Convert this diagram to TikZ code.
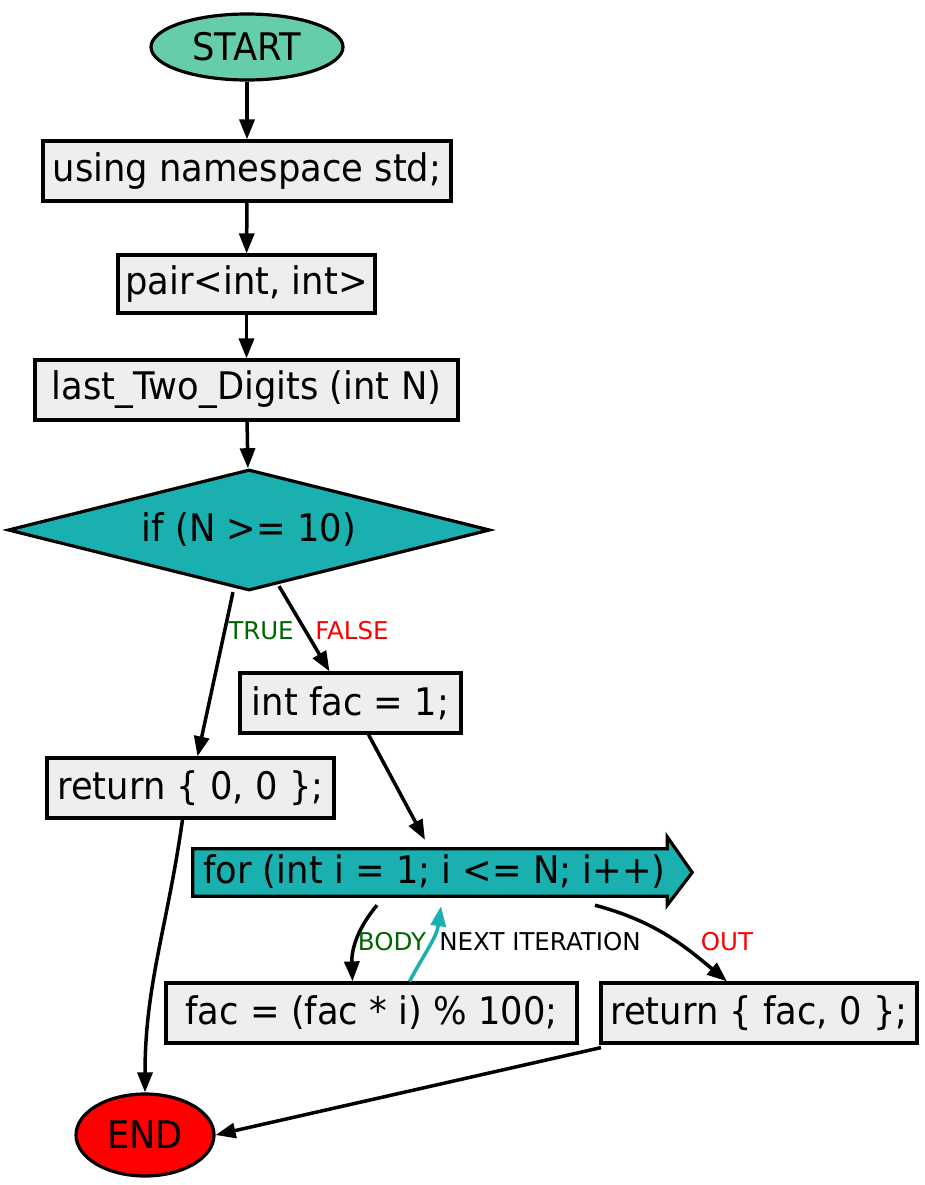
\documentclass[tikz,border=0pt]{standalone}
\usepackage{fontspec}
\setmainfont[FakeStretch=0.93]{DejaVu Sans}
\newfontfamily\lblfont{DejaVu Sans}
\usetikzlibrary{shapes.geometric,arrows.meta,calc}
\definecolor{startfill}{RGB}{102,205,170}
\definecolor{tealfill}{RGB}{26,176,176}
\definecolor{boxfill}{RGB}{238,238,238}
\definecolor{truegreen}{RGB}{0,100,0}
\begin{document}
\begin{tikzpicture}[x=1pt,y=-1pt,
  every node/.style={font=\fontsize{38}{44}\selectfont, inner sep=0pt},
  stmt/.style={draw, line width=3.2pt, fill=boxfill, rectangle, minimum height=60pt},
  terminal/.style={draw, line width=3.2pt, ellipse},
  decision/.style={draw, line width=3.2pt, fill=tealfill, diamond, aspect=3.98},
  flow/.style={line width=3.5pt, -{Triangle[length=20pt,width=15pt]}},
  lbl/.style={font=\lblfont\fontsize{24.5}{30}\selectfont}
]
\useasboundingbox (0,0) rectangle (924,1185);

% terminals and statements
\node[terminal, fill=startfill, minimum width=192pt, minimum height=66pt] (start) at (247,47) {START};
\node[stmt, minimum width=408pt] (ns) at (247,171) {using namespace std;};
\node[stmt, minimum width=257pt, minimum height=58pt] (pair) at (246.5,284) {pair<int, int>};
\node[stmt, minimum width=423pt] (fn) at (246.5,390) {last\_Two\_Digits (int N)};
\node[decision, minimum width=482pt, minimum height=121pt] (cond) at (249,530) {if (N >= 10)};
\node[stmt, minimum width=221pt] (fac) at (350.5,703) {int fac = 1;};
\node[stmt, minimum width=287pt] (ret0) at (190.5,788) {return \{ 0, 0 \};};

% loop header drawn as a block arrow
\node[minimum width=474pt, minimum height=47pt] (for) at (430,872.5) {};
\draw[line width=3.2pt, fill=tealfill] (for.north west) -- (for.north east) -- ++(0,-12)
  -- ($(for.east)+(25,0)$) -- ($(for.south east)+(0,9)$) -- (for.south east)
  -- (for.south west) -- cycle;
\node[anchor=west] (fortext) at (203,872) {for (int i = 1; i <= N; i++)};

\node[stmt, minimum width=411pt] (body) at (371.5,1013) {fac = (fac * i) \% 100;};
\node[stmt, minimum width=316pt] (retf) at (759,1013) {return \{ fac, 0 \};};
\node[terminal, fill=red, minimum width=138pt, minimum height=82pt] (end) at (145,1135) {END};

% connectors
\draw[flow] (start) -- (ns);
\draw[flow] (ns) -- (pair);
\draw[flow] (pair) -- (fn);
\draw[flow] (fn) -- (cond);
\draw[flow] ([xshift=-16pt]cond.south) -- ([xshift=7pt]ret0.north);
\draw[flow] ([xshift=30pt,yshift=6pt]cond.south) -- ([xshift=-21pt]fac.north);
\node[lbl, text=truegreen] (ltrue) at (261,631) {TRUE};
\node[lbl, text=red] (lfalse) at (352,631) {FALSE};
\draw[flow] ([xshift=18pt]fac.south) -- ([xshift=-5pt,yshift=9pt]for.north);

\draw[flow] ([xshift=-53pt,yshift=-9pt]for.south) to[out=-130,in=92] ([xshift=-19pt]body.north);
\draw[flow, tealfill] ([xshift=38pt]body.north) to[out=62,in=-98] ([xshift=11pt,yshift=-10pt]for.south);
\draw[flow] ([xshift=165pt,yshift=-9pt]for.south) to[out=-15,in=140] ([xshift=-32pt]retf.north);
\node[lbl, text=truegreen] (lbody) at (392,942) {BODY};
\node[lbl] (lnext) at (540,942) {NEXT ITERATION};
\node[lbl, text=red] (lout) at (727,942) {OUT};

\draw[flow] ([xshift=-8pt]ret0.south) to[out=-98,in=90] (end.north);
\draw[flow] ([xshift=-158pt,yshift=-3pt]retf.south) -- (end.east);
\end{tikzpicture}
\end{document}
